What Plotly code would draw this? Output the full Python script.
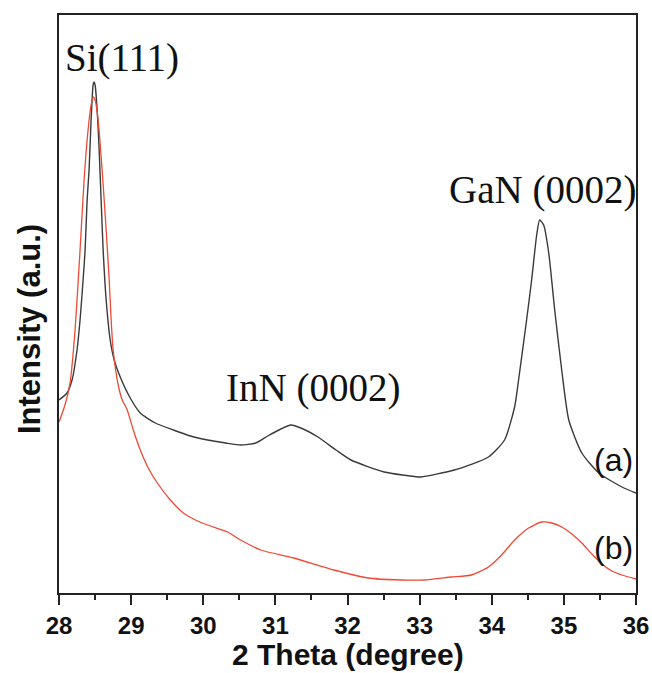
import plotly.graph_objects as go

# Curve (a) - black
theta_a = [28.000, 28.111, 28.181, 28.250, 28.292, 28.334, 28.362, 28.390, 28.417, 28.445,
           28.473, 28.487, 28.501, 28.529, 28.557, 28.584, 28.612, 28.654, 28.710, 28.765,
           28.849, 28.988, 29.127, 29.336, 29.586, 29.823, 30.059, 30.310, 30.518, 30.727,
           30.894, 31.075, 31.214, 31.353, 31.590, 31.840, 32.049, 32.508, 32.981, 33.023,
           33.482, 33.955, 34.177, 34.317, 34.372, 34.483, 34.553, 34.623, 34.664, 34.720,
           34.790, 34.873, 34.970, 35.068, 35.249, 35.485, 35.805, 36.000]
int_a = [200, 207, 220, 250, 280, 320, 350, 400, 430, 480,
         515, 518, 515, 490, 450, 400, 350, 300, 260, 240,
         223, 202, 187, 177, 170, 164, 160, 157, 155, 157,
         164, 171, 175, 172, 163, 150, 140, 128, 123, 123,
         130, 143, 160, 193, 220, 280, 320, 365, 380, 375,
         347, 290, 230, 180, 147, 127, 113, 107]

# Curve (b) - red
theta_b = [28.000, 28.083, 28.153, 28.223, 28.292, 28.348, 28.403, 28.445, 28.473, 28.501,
           28.543, 28.598, 28.654, 28.696, 28.723, 28.751, 28.821, 28.877, 28.946, 29.030,
           29.127, 29.238, 29.363, 29.544, 29.725, 29.892, 30.059, 30.337, 30.518, 30.797,
           31.256, 31.812, 32.285, 32.744, 33.064, 33.440, 33.718, 33.955, 34.136, 34.317,
           34.511, 34.692, 34.831, 34.970, 35.110, 35.249, 35.388, 35.527, 35.666, 35.805,
           36.000]
int_b = [178, 195, 217, 270, 350, 420, 470, 495, 503, 500,
         480, 430, 370, 320, 280, 250, 215, 200, 190, 170,
         150, 132, 117, 100, 87, 80, 75, 68, 60, 50,
         42, 30, 22, 20, 20, 23, 25, 33, 45, 60,
         72, 78, 77, 73, 66, 57, 46, 36, 29, 25,
         21]

tick_vals = [28, 29, 30, 31, 32, 33, 34, 35, 36]
tick_text = ["28", "29", "30", "31", "32", "33", "34", "35", "36"]

x_title = "2 Theta (degree)"
y_title = "Intensity (a.u.)"

peak_labels = ["Si(111)", "InN (0002)", "GaN (0002)"]
peak_x = [28.87, 31.52, 34.71]
peak_y = [542, 212, 410]
curve_labels = ["(a)", "(b)"]
curve_lx = [35.69, 35.69]
curve_ly = [140, 52]

fig = go.Figure()
fig.add_trace(go.Scatter(x=theta_a, y=int_a, mode="lines", line=dict(color="#3a3a3a", width=1.4, shape="spline", smoothing=0.6), showlegend=False))
fig.add_trace(go.Scatter(x=theta_b, y=int_b, mode="lines", line=dict(color="#ee4a35", width=1.3, shape="spline", smoothing=0.6), showlegend=False))

for t, x, y in zip(peak_labels, peak_x, peak_y):
    fig.add_annotation(x=x, y=y, text=t, showarrow=False,
                       font=dict(family="Liberation Serif", size=39, color="#111111"))
for t, x, y in zip(curve_labels, curve_lx, curve_ly):
    fig.add_annotation(x=x, y=y, text=t, showarrow=False,
                       font=dict(family="Liberation Sans", size=32, color="#111111"))

# axis titles
fig.add_annotation(xref="paper", yref="paper", x=0.5, y=-0.107, text="<b>" + x_title + "</b>",
                   showarrow=False, xanchor="center", yanchor="middle",
                   font=dict(family="Liberation Sans", size=30, color="#111"))
fig.add_annotation(xref="paper", yref="paper", x=-0.05, y=0.457, text="<b>" + y_title + "</b>",
                   showarrow=False, xanchor="center", yanchor="middle", textangle=-90,
                   font=dict(family="Liberation Sans", size=31, color="#111"))

fig.update_layout(
    width=652, height=673,
    margin=dict(l=59, r=16, t=15, b=80),
    paper_bgcolor="white", plot_bgcolor="white",
    xaxis=dict(range=[28, 36], tickvals=tick_vals, ticktext=tick_text, automargin=False,
               ticks="outside", ticklen=10, tickwidth=2, tickcolor="#222",
               showline=True, linecolor="#222", linewidth=2, mirror=True,
               showgrid=False, zeroline=False,
               minor=dict(ticks="outside", ticklen=5, tickwidth=2, dtick=0.5, tickcolor="#222"),
               tickfont=dict(family="Liberation Sans", size=24, color="#111", weight="bold")),
    yaxis=dict(range=[7, 585], showticklabels=False, ticks="", automargin=False,
               showline=True, linecolor="#222", linewidth=2, mirror=True,
               showgrid=False, zeroline=False),
)

fig.write_html("out.html")
